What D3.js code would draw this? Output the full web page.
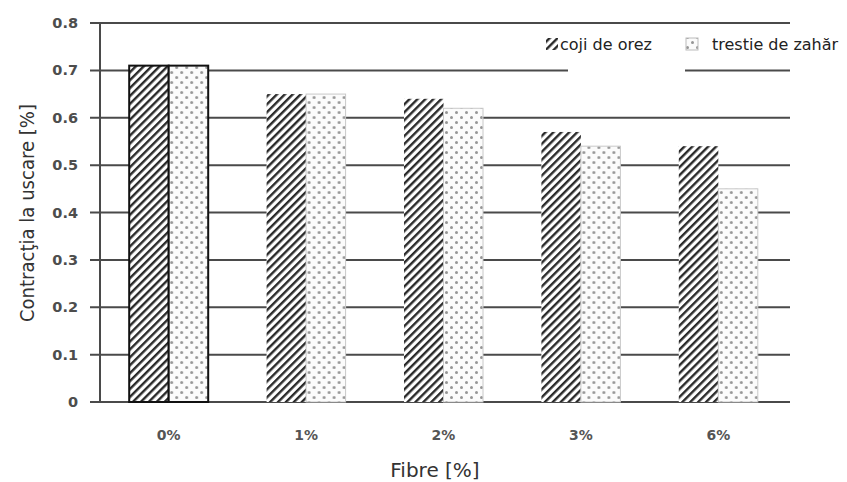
<!DOCTYPE html>
<html>
<head>
<meta charset="utf-8">
<script src="https://cdn.jsdelivr.net/npm/d3@7"></script>
<style>
  html, body { margin: 0; padding: 0; background: #fff; }
  svg { display: block; }
</style>
</head>
<body>
<svg id="chart" width="847" height="482"></svg>
<script>
// Drying shrinkage by fibre content, two fibre types
const categories = ["0%", "1%", "2%", "3%", "6%"];
const cojiDeOrez = [0.71, 0.65, 0.64, 0.57, 0.54];
const trestieDeZahar = [0.71, 0.65, 0.62, 0.54, 0.45];
const seriesNames = ["coji de orez", "trestie de zahăr"];
const yTicks = [0, 0.1, 0.2, 0.3, 0.4, 0.5, 0.6, 0.7, 0.8];

const svg = d3.select("#chart");
const x0 = 100, x1 = 787, yTop = 23, yBot = 402;
const font = "DejaVu Sans, Verdana, sans-serif";

const defs = svg.append("defs");
// diagonal hatching
const hatch = defs.append("pattern")
  .attr("id", "hatch").attr("patternUnits", "userSpaceOnUse")
  .attr("width", 5.6).attr("height", 5.6)
  .attr("patternTransform", "rotate(45)");
hatch.append("rect").attr("width", 5.6).attr("height", 5.6).attr("fill", "#fff");
hatch.append("rect").attr("x", 0).attr("width", 2.4).attr("height", 5.6).attr("fill", "#2a2a2a");

// dotted fill
const dots = defs.append("pattern")
  .attr("id", "dots").attr("patternUnits", "userSpaceOnUse")
  .attr("width", 10).attr("height", 10);
dots.append("rect").attr("width", 10).attr("height", 10).attr("fill", "#fbfbfb");
dots.append("circle").attr("cx", 2.5).attr("cy", 2.5).attr("r", 1.5).attr("fill", "#959595");
dots.append("circle").attr("cx", 7.5).attr("cy", 7.5).attr("r", 1.5).attr("fill", "#959595");

const x = d3.scaleBand().domain(categories).range([x0, x1]).paddingInner(0.425).paddingOuter(0.2125);
const xs = d3.scaleBand().domain([0, 1]).range([0, x.bandwidth()]);
const y = d3.scaleLinear().domain([0, 0.8]).range([yBot, yTop]);

// gridlines with tick stubs
svg.append("g").selectAll("line").data(yTicks).join("line")
  .attr("x1", 90).attr("x2", x1 + 3)
  .attr("y1", d => y(d)).attr("y2", d => y(d))
  .attr("stroke", "#4a4a4a").attr("stroke-width", 2);

// y axis line
svg.append("line").attr("x1", x0).attr("x2", x0).attr("y1", yTop).attr("y2", yBot)
  .attr("stroke", "#4a4a4a").attr("stroke-width", 2);

// y tick labels
svg.append("g").selectAll("text").data(yTicks).join("text")
  .attr("x", 78).attr("y", d => y(d) + 5)
  .attr("text-anchor", "end")
  .attr("font-family", font).attr("font-size", 14.5)
  .attr("font-weight", "bold").attr("fill", "#4d4d4d")
  .text(d => d === 0 ? "0" : d3.format(".1f")(d));

// bars
const rows = categories.map((c, i) => ({ c, i, v: [cojiDeOrez[i], trestieDeZahar[i]] }));
const groups = svg.append("g").selectAll("g").data(rows).join("g")
  .attr("transform", d => `translate(${x(d.c)},0)`);
groups.selectAll("rect").data(d => d.v.map((v, k) => ({ v, k, first: d.i === 0 }))).join("rect")
  .attr("x", d => xs(d.k)).attr("width", xs.bandwidth())
  .attr("y", d => y(d.v)).attr("height", d => yBot - y(d.v))
  .attr("fill", d => d.k === 0 ? "url(#hatch)" : "url(#dots)")
  .attr("stroke", d => d.first ? "#111" : (d.k === 0 ? "none" : "#c8c8c8"))
  .attr("stroke-width", d => d.first ? 2 : 1);

// x tick labels
svg.append("g").selectAll("text").data(categories).join("text")
  .attr("x", d => x(d) + x.bandwidth() / 2).attr("y", 440)
  .attr("text-anchor", "middle")
  .attr("font-family", font).attr("font-size", 14)
  .attr("font-weight", "bold").attr("fill", "#555")
  .text(d => d);

// legend
svg.append("rect").attr("x", 568).attr("y", 28).attr("width", 117).attr("height", 50).attr("fill", "#fff");
const leg = svg.append("g");
const legX = [546, 686];
const legTextX = [560, 712];
seriesNames.forEach((name, k) => {
  leg.append("rect").attr("x", legX[k]).attr("y", 38).attr("width", 12).attr("height", 12)
    .attr("fill", k === 0 ? "url(#hatch)" : "url(#dots)")
    .attr("stroke", k === 0 ? "none" : "#bbb");
  leg.append("text").attr("x", legTextX[k]).attr("y", 50)
    .attr("font-family", font).attr("font-size", 16)
    .attr("fill", "#222").text(name);
});

// axis titles
svg.append("text").attr("x", 435).attr("y", 477).attr("text-anchor", "middle")
  .attr("font-family", font).attr("font-size", 20).attr("fill", "#333")
  .text("Fibre [%]");
svg.append("text").attr("transform", "translate(34,213) rotate(-90)").attr("text-anchor", "middle")
  .attr("font-family", font).attr("font-size", 19).attr("fill", "#333")
  .attr("textLength", 218).attr("lengthAdjust", "spacingAndGlyphs")
  .text("Contracţia la uscare [%]");
</script>
</body>
</html>
